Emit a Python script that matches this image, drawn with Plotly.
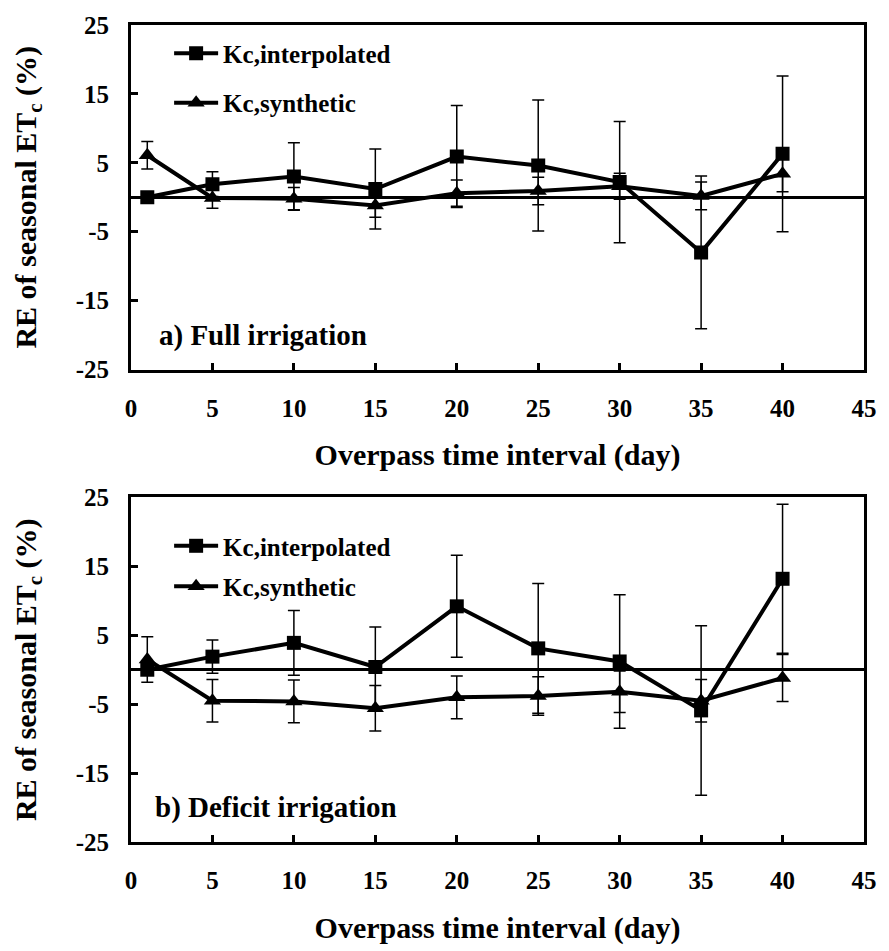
import plotly.graph_objects as go

# ---- data ----
days = [1, 5, 10, 15, 20, 25, 30, 35, 40]

full_interp = [0.0, 1.9, 3.0, 1.2, 5.9, 4.6, 2.2, -8.0, 6.3]
full_interp_err = [0.3, 1.8, 4.9, 5.8, 7.4, 9.5, 8.8, 11.1, 11.3]
full_synth = [6.1, -0.1, -0.2, -1.2, 0.6, 0.9, 1.6, 0.2, 3.4]
full_synth_err = [2.0, 1.5, 1.6, 1.7, 1.9, 2.0, 1.9, 2.0, 2.6]

def_interp = [0.0, 1.9, 3.9, 0.4, 9.2, 3.1, 1.2, -5.9, 13.2]
def_interp_err = [0.3, 2.4, 4.7, 5.8, 7.4, 9.4, 9.7, 12.3, 10.8]
def_synth = [1.5, -4.5, -4.6, -5.6, -4.0, -3.8, -3.2, -4.5, -1.2]
def_synth_err = [3.3, 3.1, 3.1, 3.3, 3.1, 2.8, 3.0, 3.1, 3.4]

x_tick_vals = [0, 5, 10, 15, 20, 25, 30, 35, 40, 45]
y_tick_vals = [-25, -15, -5, 5, 15, 25]
y_tick_labels = ["-25", "-15", "-5", "5", "15", "25"]

series_names = ["Kc,interpolated", "Kc,synthetic"]
panel_labels = ["a) Full irrigation", "b) Deficit irrigation"]
x_title = "Overpass time interval (day)"
y_title = "RE of seasonal ET<sub>c</sub> (%)"

FONT = "Liberation Serif"
fig = go.Figure()

panels = [
    ("x", "y", "legend", full_interp, full_interp_err, full_synth, full_synth_err),
    ("x2", "y2", "legend2", def_interp, def_interp_err, def_synth, def_synth_err),
]

for xa, ya, leg, yi, ei, ys, es in panels:
    fig.add_trace(go.Scatter(
        x=days, y=yi, xaxis=xa, yaxis=ya, name=series_names[0], legend=leg,
        legendgroup=leg + "a", mode="lines+markers",
        line=dict(color="black", width=4),
        marker=dict(symbol="square", size=14, color="black"),
        error_y=dict(type="data", array=ei, visible=True, color="black",
                     thickness=1.5, width=6),
    ))
    fig.add_trace(go.Scatter(
        x=days, y=ys, xaxis=xa, yaxis=ya, name=series_names[1], legend=leg,
        legendgroup=leg + "b", mode="lines+markers",
        line=dict(color="black", width=4),
        marker=dict(symbol="triangle-up", size=15, color="black"),
        error_y=dict(type="data", array=es, visible=True, color="black",
                     thickness=1.5, width=6),
    ))

top_dom = [0.5783, 1.0]
bot_dom = [0.0, 0.4217]

def xaxis(domain_anchor):
    return dict(
        range=[0, 45], tickvals=x_tick_vals, ticks="inside", ticklen=7, tickwidth=3,
        tickcolor="black", showline=True, linecolor="black", linewidth=3, mirror=True,
        showgrid=False, zeroline=False, anchor=domain_anchor,
        tickfont=dict(family=FONT, size=25, color="black", weight="bold"),
        ticklabelstandoff=14,
        title=dict(text=x_title, standoff=24,
                   font=dict(family=FONT, size=30, color="black", weight="bold")),
    )

def yaxis(dom, anchor):
    return dict(
        range=[-25, 25], domain=dom, tickvals=y_tick_vals, ticktext=y_tick_labels,
        ticks="inside", ticklen=7, tickwidth=3, tickcolor="black",
        showline=True, linecolor="black", linewidth=3, mirror=True,
        showgrid=False, zeroline=True, zerolinecolor="black", zerolinewidth=3,
        anchor=anchor,
        tickfont=dict(family=FONT, size=25, color="black", weight="bold"),
        ticklabelstandoff=14,
        title=dict(text=y_title, standoff=31,
                   font=dict(family=FONT, size=30, color="black", weight="bold")),
    )

legend_style = dict(
    font=dict(family=FONT, size=25, color="black", weight="bold"),
    bgcolor="rgba(0,0,0,0)", borderwidth=0, itemwidth=44,
    traceorder="grouped", xanchor="left", yanchor="top",
)

fig.update_layout(
    width=889, height=951,
    margin=dict(l=131, r=16, t=23, b=91),
    paper_bgcolor="white", plot_bgcolor="white",
    showlegend=True,
    xaxis=xaxis("y"),
    yaxis=yaxis(top_dom, "x"),
    xaxis2=xaxis("y2"),
    yaxis2=yaxis(bot_dom, "x2"),
    legend=dict(x=0.052, y=0.9934, tracegroupgap=14, **legend_style),
    legend2=dict(x=0.052, y=0.3904, tracegroupgap=5, **legend_style),
    annotations=[
        dict(text=panel_labels[0], xref="x domain", yref="y domain", x=0.035, y=0.10,
             xanchor="left", yanchor="middle", showarrow=False,
             font=dict(family=FONT, size=29, color="black", weight="bold")),
        dict(text=panel_labels[1], xref="x2 domain", yref="y2 domain", x=0.03, y=0.10,
             xanchor="left", yanchor="middle", showarrow=False,
             font=dict(family=FONT, size=29, color="black", weight="bold")),
    ],
)

fig.write_html("out.html", config={"displayModeBar": False},
               post_script="document.body.style.margin='0';")
